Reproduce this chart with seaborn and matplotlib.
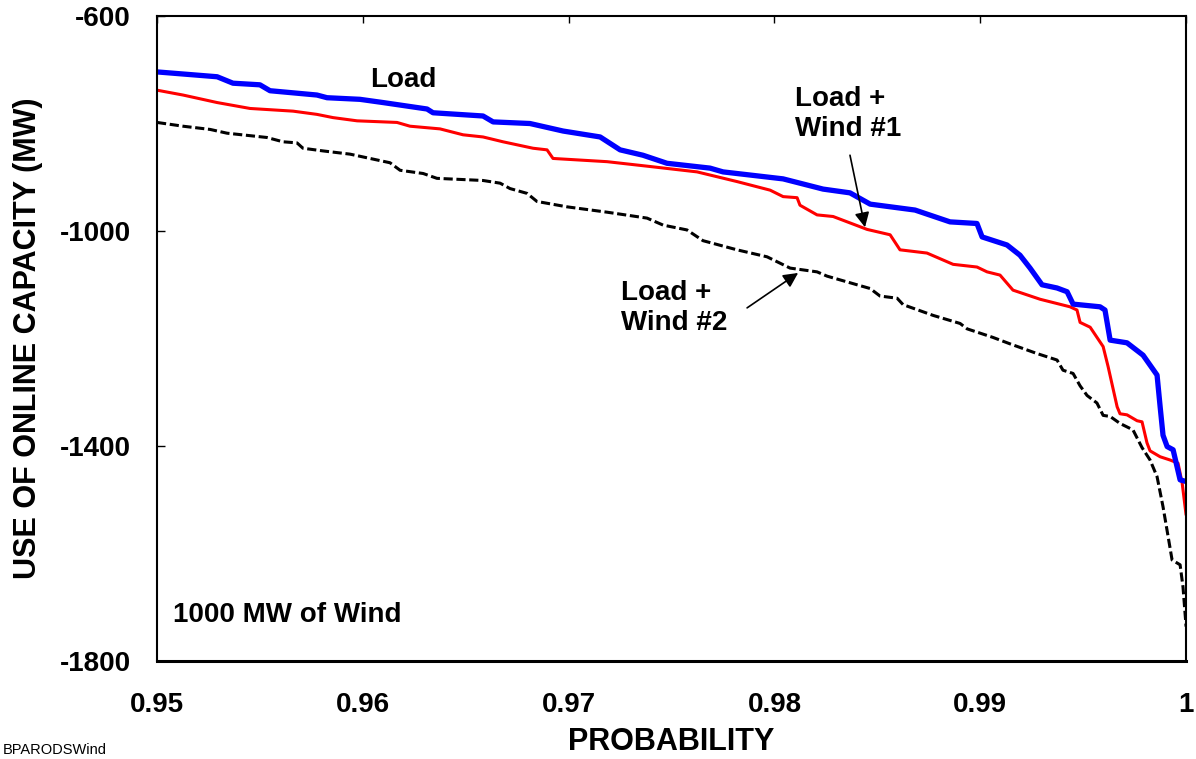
import numpy as np
import pandas as pd
import seaborn as sns
import matplotlib.pyplot as plt

# Load duration curves (x = probability, y = MW)
load_x = [0.95000, 0.95292, 0.95369, 0.95500, 0.95549, 0.95777, 0.95826, 0.95986,
          0.96098, 0.96312, 0.96341, 0.96584, 0.96633, 0.96812, 0.96973, 0.97153,
          0.97250, 0.97361, 0.97478, 0.97687, 0.97750, 0.98042, 0.98236, 0.98367,
          0.98465, 0.98683, 0.98853, 0.98984, 0.99009, 0.99130, 0.99193, 0.99242,
          0.99300, 0.99373, 0.99422, 0.99451, 0.99582, 0.99606, 0.99631, 0.99713,
          0.99791, 0.99859, 0.99874, 0.99888, 0.99908, 0.99937, 0.99971, 1.00000]
load_y = [-704, -713, -725, -728, -739, -747, -752, -755,
          -761, -773, -780, -786, -797, -800, -814, -825,
          -849, -859, -874, -883, -890, -903, -922, -929,
          -950, -961, -983, -986, -1011, -1026, -1045, -1069,
          -1100, -1106, -1113, -1136, -1141, -1147, -1203, -1208,
          -1231, -1268, -1327, -1380, -1401, -1407, -1463, -1466]

wind1_x = [0.95000, 0.95126, 0.95209, 0.95292, 0.95452, 0.95661, 0.95777, 0.95855,
           0.95972, 0.96166, 0.96229, 0.96375, 0.96487, 0.96584, 0.96681, 0.96827,
           0.96895, 0.96924, 0.97187, 0.97396, 0.97624, 0.97818, 0.97979, 0.98042,
           0.98110, 0.98124, 0.98207, 0.98285, 0.98450, 0.98562, 0.98610, 0.98741,
           0.98868, 0.98984, 0.99033, 0.99096, 0.99159, 0.99291, 0.99436, 0.99470,
           0.99485, 0.99534, 0.99597, 0.99621, 0.99665, 0.99679, 0.99713, 0.99762,
           0.99786, 0.99810, 0.99825, 0.99874, 0.99922, 0.99961, 0.99981, 1.00000]
wind1_y = [-738, -747, -754, -761, -772, -777, -783, -789,
           -795, -798, -805, -810, -821, -825, -834, -846,
           -849, -865, -871, -880, -890, -908, -924, -936,
           -938, -952, -970, -973, -997, -1007, -1035, -1041,
           -1062, -1067, -1076, -1082, -1110, -1127, -1141, -1147,
           -1170, -1179, -1215, -1252, -1327, -1340, -1342, -1353,
           -1355, -1394, -1409, -1420, -1426, -1432, -1469, -1528]

wind2_x = [0.95000, 0.95126, 0.95258, 0.95340, 0.95534, 0.95612, 0.95680, 0.95709,
           0.95807, 0.95938, 0.96132, 0.96181, 0.96293, 0.96360, 0.96584, 0.96667,
           0.96715, 0.96798, 0.96846, 0.96992, 0.97187, 0.97381, 0.97459, 0.97575,
           0.97653, 0.97818, 0.97964, 0.98076, 0.98207, 0.98256, 0.98401, 0.98465,
           0.98513, 0.98596, 0.98625, 0.98771, 0.98902, 0.98936, 0.99062, 0.99145,
           0.99276, 0.99373, 0.99402, 0.99451, 0.99485, 0.99519, 0.99567, 0.99597,
           0.99631, 0.99679, 0.99742, 0.99786, 0.99825, 0.99859, 0.99888, 0.99913,
           0.99932, 0.99971, 0.99985, 0.99995, 1.00000]
wind2_y = [-798, -805, -811, -818, -826, -834, -836, -846,
           -851, -857, -873, -887, -893, -902, -906, -911,
           -921, -930, -945, -955, -965, -976, -989, -998,
           -1018, -1035, -1048, -1069, -1076, -1084, -1100, -1107,
           -1121, -1125, -1137, -1157, -1172, -1182, -1198, -1210,
           -1228, -1240, -1259, -1265, -1288, -1306, -1320, -1343,
           -1345, -1358, -1370, -1403, -1426, -1457, -1513, -1569,
           -1612, -1621, -1662, -1711, -1736]

x_ticks = [0.95, 0.96, 0.97, 0.98, 0.99, 1.0]
x_tick_labels = ['0.95', '0.96', '0.97', '0.98', '0.99', '1']
y_ticks = [-1800, -1400, -1000, -600]
y_tick_labels = ['-1800', '-1400', '-1000', '-600']

sns.set_style('white')
plt.rcParams['font.family'] = ['Liberation Sans', 'DejaVu Sans']
plt.rcParams['font.weight'] = 'bold'
plt.rcParams['text.color'] = 'black'
plt.rcParams['axes.labelcolor'] = 'black'
plt.rcParams['xtick.color'] = 'black'
plt.rcParams['ytick.color'] = 'black'

fig = plt.figure(figsize=(11.96, 7.59), dpi=100)
ax = fig.add_axes([0.1313, 0.1291, 0.8604, 0.8498])

sns.lineplot(x=wind2_x, y=wind2_y, ax=ax, color='black', linewidth=2.2,
             linestyle=(0, (3, 1.2)), estimator=None)
sns.lineplot(x=wind1_x, y=wind1_y, ax=ax, color='#FF0000', linewidth=2.2, estimator=None)
sns.lineplot(x=load_x, y=load_y, ax=ax, color='#0000FF', linewidth=3.8, estimator=None)

ax.set_xlim(0.95, 1.0)
ax.set_ylim(-1800, -600)
ax.set_xticks(x_ticks)
ax.set_xticklabels(x_tick_labels)
ax.set_yticks(y_ticks)
ax.set_yticklabels(y_tick_labels)
ax.tick_params(axis='x', direction='in', top=True, bottom=False, labelbottom=True,
               labeltop=False, length=5, width=1, colors='black', pad=22, labelsize=20)
ax.tick_params(axis='y', direction='in', left=True, length=6, width=1,
               colors='black', pad=19, labelsize=20)
for s in ax.spines.values():
    s.set_color('black')
    s.set_linewidth(1.5)
ax.spines['bottom'].set_linewidth(2.2)

ax.set_xlabel('PROBABILITY', fontsize=22, fontweight='bold', color='black')
ax.set_ylabel('USE OF ONLINE CAPACITY (MW)', fontsize=22, fontweight='bold', color='black')
ax.xaxis.set_label_coords(0.5, -0.1256)
ax.xaxis.label.set_va('center')
ax.yaxis.set_label_coords(-0.1254, 0.5)
ax.yaxis.label.set_va('center')

ax.text(0.96035, -719, 'Load', fontsize=20, fontweight='bold', va='center', ha='left')
ax.text(0.98100, -783, 'Load +\nWind #1', fontsize=20, fontweight='bold',
        va='center', ha='left', linespacing=1.2)
ax.text(0.97255, -1144, 'Load +\nWind #2', fontsize=20, fontweight='bold',
        va='center', ha='left', linespacing=1.2)
ax.text(0.95078, -1714, '1000 MW of Wind', fontsize=20, fontweight='bold',
        va='center', ha='left')

arrow = dict(arrowstyle='-|>', color='black', lw=1.2, mutation_scale=22,
             shrinkA=0, shrinkB=0)
ax.annotate('', xy=(0.98440, -993), xytext=(0.98367, -859), arrowprops=arrow)
ax.annotate('', xy=(0.98115, -1078), xytext=(0.97867, -1143), arrowprops=arrow)

fig.text(0.002, 0.002, 'BPARODSWind', fontsize=10.5, fontweight='normal',
         ha='left', va='bottom')

fig.savefig('out.png', dpi=100)
